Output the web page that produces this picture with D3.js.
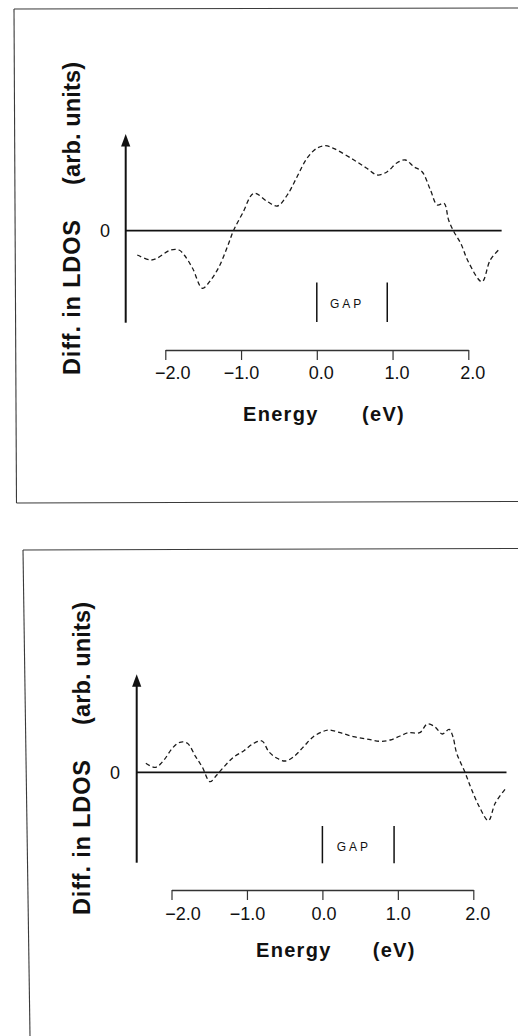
<!DOCTYPE html>
<html>
<head>
<meta charset="utf-8">
<script src="https://cdn.jsdelivr.net/npm/d3@7"></script>
<style>
  body { margin: 0; background: #fff; }
  svg { display: block; }
  text { font-family: "Liberation Sans", Arial, Helvetica, sans-serif; fill: #111; }
</style>
</head>
<body>
<svg id="chart" width="518" height="1036"></svg>
<script>
// Energy axis ticks (eV) and their printed labels
const energyTicks = [-2, -1, 0, 1, 2];
const tickLabels = ["−2.0", "−1.0", "0.0", "1.0", "2.0"];

// Upper panel: difference in local density of states (arb. units) vs energy (eV)
const upperEnergy = [-2.37, -2.19, -2.11, -1.93, -1.82, -1.75, -1.64, -1.51, -1.40, -1.29,
  -1.18, -1.10, -0.98, -0.83, -0.65, -0.52, -0.39, -0.26, -0.13, 0.00,
  0.115, 0.22, 0.49, 0.66, 0.80, 0.93, 1.06, 1.17, 1.28, 1.39,
  1.50, 1.59, 1.68, 1.74, 1.81, 1.90, 2.00, 2.18, 2.29, 2.42];
const upperDiff = [-2.43, -2.93, -2.76, -1.93, -1.93, -2.43, -3.76, -5.76, -4.93, -3.60,
  -1.60, 0.00, 1.74, 3.74, 2.90, 2.47, 3.57, 5.40, 7.24, 8.24,
  8.50, 8.24, 7.07, 6.24, 5.57, 5.90, 6.80, 7.07, 6.40, 5.90,
  4.07, 2.57, 2.74, 1.07, -0.10, -1.26, -3.10, -5.10, -2.93, -1.76];
const upperGap = [0, 0.93];

// Lower panel
const lowerEnergy = [-2.34, -2.21, -2.10, -1.99, -1.89, -1.79, -1.68, -1.59, -1.49, -1.40,
  -1.31, -1.18, -1.04, -0.91, -0.80, -0.71, -0.60, -0.49, -0.38, -0.25,
  -0.12, 0.00, 0.08, 0.235, 0.41, 0.59, 0.76, 0.90, 1.03, 1.14,
  1.29, 1.39, 1.49, 1.59, 1.68, 1.73, 1.78, 1.89, 1.98, 2.09,
  2.20, 2.29, 2.42];
const lowerDiff = [0.90, 0.50, 1.23, 2.40, 3.00, 2.90, 1.56, 0.50, -0.94, -0.27,
  0.50, 1.50, 2.16, 2.90, 3.13, 2.06, 1.40, 1.13, 1.56, 2.56,
  3.56, 4.06, 4.23, 3.96, 3.56, 3.33, 3.10, 3.23, 3.63, 3.96,
  3.96, 4.83, 4.56, 3.83, 4.30, 3.56, 1.90, 0.00, -1.77, -3.60,
  -4.84, -3.10, -1.70];
const lowerGap = [0, 0.95];

const yLabelMain = "Diff. in LDOS";
const yLabelUnit = "(arb. units)";
const xLabelMain = "Energy";
const xLabelUnit = "(eV)";
const gapLabel = "GAP";

// Page layout of the two framed panels
const panels = [
  {
    energy: upperEnergy, diff: upperDiff, gap: upperGap,
    frame: { left: [14, 9, 16.5, 503], top: [14, 9, 518, 8], bottom: [16.5, 503, 518, 501.5] },
    xRange: [165.3, 468.3], axisX: 125.7, axisTop: 134, axisBottom: 322.7, zeroY: 230.7,
    zeroEndE: 2.44, tickLineY: 350, tickPad: 6.7, labelShift: [7, 0, 4, 4, 4],
    zeroLabelX: 105, yLabelX: 80, yLabelStart: 375,
    energyX: 243, unitX: 362, energyBase: 420.7,
    gapTop: 282.5, gapBottom: 322, gapTextX: 330, gapTextBase: 307.5
  },
  {
    energy: lowerEnergy, diff: lowerDiff, gap: lowerGap,
    frame: { left: [23, 550, 30, 1036], top: [23, 550, 518, 548.5] },
    xRange: [171.5, 473.3], axisX: 136.7, axisTop: 674.3, axisBottom: 862.7, zeroY: 772.3,
    zeroEndE: 2.44, tickLineY: 890, tickPad: 7.7, labelShift: [11, 0, 1, 0, 4],
    zeroLabelX: 115, yLabelX: 90, yLabelStart: 915,
    energyX: 256, unitX: 372.7, energyBase: 957,
    gapTop: 826, gapBottom: 863.3, gapTextX: 336.7, gapTextBase: 851
  }
];

const svg = d3.select("#chart");

function drawPanel(p) {
  const g = svg.append("g");
  const x = d3.scaleLinear().domain([-2, 2]).range(p.xRange);
  // 10 px per arbitrary unit, zero at the baseline
  const y = d3.scaleLinear().domain([0, 1]).range([p.zeroY, p.zeroY - 10]);

  // frame
  Object.values(p.frame).forEach(f => {
    g.append("line").attr("x1", f[0]).attr("y1", f[1]).attr("x2", f[2]).attr("y2", f[3])
      .attr("stroke", "#3a3a3a").attr("stroke-width", 1.1);
  });

  // vertical axis with arrow head
  g.append("line").attr("x1", p.axisX).attr("x2", p.axisX)
    .attr("y1", p.axisBottom).attr("y2", p.axisTop + 10)
    .attr("stroke", "#111").attr("stroke-width", 2);
  g.append("path")
    .attr("d", `M${p.axisX},${p.axisTop} L${p.axisX - 4.6},${p.axisTop + 12.5} L${p.axisX + 4.6},${p.axisTop + 12.5} Z`)
    .attr("fill", "#111");

  // zero baseline
  g.append("line").attr("x1", p.axisX).attr("x2", x(p.zeroEndE))
    .attr("y1", y(0)).attr("y2", y(0))
    .attr("stroke", "#111").attr("stroke-width", 1.8);
  g.append("text").attr("x", p.zeroLabelX).attr("y", y(0) + 6.5)
    .attr("text-anchor", "middle").attr("font-size", 18).text("0");

  // dashed LDOS difference curve
  const pts = p.energy.map((e, i) => [e, p.diff[i]]);
  g.append("path").datum(pts)
    .attr("d", d3.line().x(d => x(d[0])).y(d => y(d[1])).curve(d3.curveCatmullRom.alpha(0.5)))
    .attr("fill", "none").attr("stroke", "#1a1a1a").attr("stroke-width", 1.3)
    .attr("stroke-dasharray", "4.5,3");

  // band gap markers
  p.gap.forEach(e => {
    g.append("line").attr("x1", x(e)).attr("x2", x(e))
      .attr("y1", p.gapTop).attr("y2", p.gapBottom)
      .attr("stroke", "#111").attr("stroke-width", 1.5);
  });
  g.append("text").attr("x", p.gapTextX).attr("y", p.gapTextBase)
    .attr("font-size", 12).attr("letter-spacing", 3).text(gapLabel);

  // energy axis
  const axis = g.append("g").attr("transform", `translate(0,${p.tickLineY})`)
    .call(d3.axisBottom(x).tickValues(energyTicks).tickSize(10).tickSizeOuter(0)
      .tickPadding(p.tickPad).tickFormat((d, i) => tickLabels[i]));
  axis.select(".domain").attr("stroke", "#333").attr("stroke-width", 1.3);
  axis.selectAll(".tick line").attr("stroke", "#333").attr("stroke-width", 1.2);
  axis.selectAll(".tick text")
    .attr("font-size", 18).attr("font-family", "\"Liberation Sans\", Arial, sans-serif")
    .attr("fill", "#111").attr("dx", (d, i) => p.labelShift[i]);

  // axis titles
  g.append("text").attr("x", p.energyX).attr("y", p.energyBase)
    .attr("font-size", 20).attr("font-weight", "bold").attr("letter-spacing", 1.3).text(xLabelMain);
  g.append("text").attr("x", p.unitX).attr("y", p.energyBase)
    .attr("font-size", 20).attr("font-weight", "bold").attr("letter-spacing", 1.3).text(xLabelUnit);

  g.append("text").attr("transform", `translate(${p.yLabelX},${p.yLabelStart}) rotate(-90)`)
    .attr("font-size", 23.5).attr("font-weight", "bold")
    .attr("textLength", 155).attr("lengthAdjust", "spacing").text(yLabelMain);
  g.append("text").attr("transform", `translate(${p.yLabelX},${p.yLabelStart - 190}) rotate(-90)`)
    .attr("font-size", 23.5).attr("font-weight", "bold")
    .attr("textLength", 123).attr("lengthAdjust", "spacing").text(yLabelUnit);
}

panels.forEach(drawPanel);
</script>
</body>
</html>
